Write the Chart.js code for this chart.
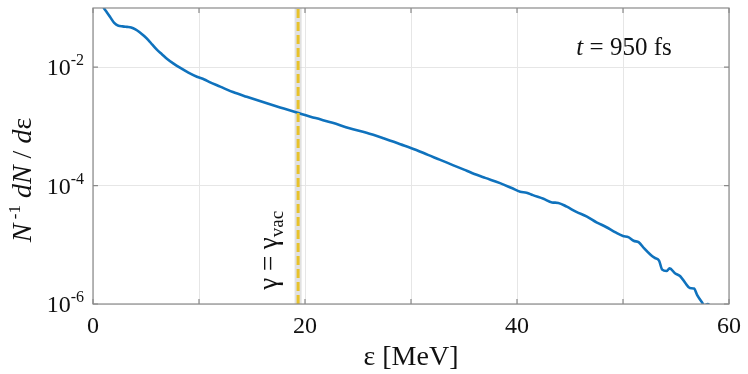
<!DOCTYPE html>
<html>
<head>
<meta charset="utf-8">
<script src="https://cdn.jsdelivr.net/npm/chart.js@4.4.0/dist/chart.umd.min.js"></script>
<style>
  html, body { margin: 0; padding: 0; background: #fff; }
  #wrap { width: 748px; height: 374px; position: relative; }
</style>
</head>
<body>
<div id="wrap"><canvas id="spec"></canvas></div>
<script>
// electron energy spectrum at t = 950 fs
const energy = [
  0.8, 1.0, 1.3, 1.6, 2.0, 2.4, 2.8, 3.2, 3.6, 4.0, 4.4, 4.8, 5.2, 5.6, 6.0, 6.5, 7.0, 7.6, 8.2, 9.0,
  9.8, 10.5, 11.0, 12.0, 13.2, 14.5, 16.4, 18.0, 19.3, 21.0, 22.6, 24.2, 25.8, 27.4, 29.0, 30.5, 31.6, 32.7, 34.0, 35.0,
  35.8, 37.0, 38.4, 39.5, 40.3, 40.9, 41.5, 42.5, 43.3, 43.9, 44.7, 45.6, 46.6, 47.5, 48.4, 49.3, 50.0, 50.5, 51.0, 51.5,
  52.0, 52.6, 53.0, 53.4, 53.7, 54.1, 54.4, 54.9, 55.4, 55.9, 56.3, 56.7, 57.0, 57.4, 57.7, 58.0, 58.3
];
const spectrum = [
  1.26e-1, 1.02e-1, 8.5e-2, 7.1e-2, 5.6e-2, 5.0e-2, 4.9e-2, 4.8e-2, 4.7e-2, 4.37e-2, 3.9e-2, 3.4e-2, 2.9e-2, 2.4e-2, 2.0e-2, 1.66e-2, 1.38e-2, 1.15e-2, 9.8e-3, 8.1e-3,
  6.9e-3, 6.2e-3, 5.6e-3, 4.7e-3, 3.8e-3, 3.16e-3, 2.45e-3, 2.0e-3, 1.7e-3, 1.38e-3, 1.15e-3, 9.3e-4, 7.8e-4, 6.3e-4, 5.0e-4, 4.0e-4, 3.3e-4, 2.75e-4, 2.2e-4, 1.86e-4,
  1.62e-4, 1.35e-4, 1.10e-4, 9.1e-5, 7.9e-5, 7.6e-5, 6.9e-5, 6.0e-5, 5.2e-5, 5.1e-5, 4.4e-5, 3.6e-5, 3.0e-5, 2.4e-5, 2.0e-5, 1.62e-5, 1.41e-5, 1.35e-5, 1.17e-5, 1.10e-5,
  8.7e-6, 6.8e-6, 6.0e-6, 5.4e-6, 3.8e-6, 3.6e-6, 4.0e-6, 3.3e-6, 2.95e-6, 2.24e-6, 1.86e-6, 1.82e-6, 1.41e-6, 1.10e-6, 9.5e-7, 1.0e-6, 8.9e-7
];
const gammaVac = 19.35;   // energy where gamma = gamma_vac

const xTicks = [0, 10, 20, 30, 40, 50, 60];
const xLabels = ['0', '', '20', '', '40', '', '60'];
const yTicks = [1e-6, 1e-4, 1e-2];
const yExponents = ['-6', '-4', '-2'];

const serif = "'Liberation Serif', 'Times New Roman', serif";

const curve = energy.map((e, i) => ({ x: e, y: spectrum[i] }));
const vline = [{ x: gammaVac, y: 1e-6 }, { x: gammaVac, y: 1e-1 }];

// draws a run of text pieces with their own styles
function drawPieces(ctx, pieces, x, y, align) {
  let total = 0;
  pieces.forEach(p => {
    ctx.font = (p.italic ? 'italic ' : '') + p.size + 'px ' + serif;
    p.w = ctx.measureText(p.t).width;
    total += p.w;
  });
  let cx = align === 'center' ? x - total / 2 : align === 'right' ? x - total : x;
  pieces.forEach(p => {
    ctx.font = (p.italic ? 'italic ' : '') + p.size + 'px ' + serif;
    ctx.fillText(p.t, cx, y + (p.dy || 0));
    cx += p.w;
  });
}

const annotations = {
  id: 'annotations',
  afterDraw(chart) {
    const { ctx, chartArea: a, scales } = chart;
    ctx.save();
    // box and inward tick marks
    ctx.strokeStyle = '#8a8a8a';
    ctx.lineWidth = 1.2;
    ctx.strokeRect(a.left, a.top, a.right - a.left, a.bottom - a.top);
    ctx.beginPath();
    xTicks.forEach(v => {
      const px = scales.x.getPixelForValue(v);
      ctx.moveTo(px, a.bottom); ctx.lineTo(px, a.bottom - 5);
      ctx.moveTo(px, a.top); ctx.lineTo(px, a.top + 5);
    });
    yTicks.forEach(v => {
      const py = scales.y.getPixelForValue(v);
      ctx.moveTo(a.left, py); ctx.lineTo(a.left + 5, py);
      ctx.moveTo(a.right, py); ctx.lineTo(a.right - 5, py);
    });
    ctx.stroke();

    ctx.fillStyle = '#111';
    ctx.textBaseline = 'alphabetic';

    // y tick labels with superscript exponents
    yTicks.forEach((v, i) => {
      const py = scales.y.getPixelForValue(v);
      drawPieces(ctx, [
        { t: '10', size: 24 },
        { t: yExponents[i], size: 16, dy: -10 }
      ], a.left - 9, py + 8, 'right');
    });

    // x title
    drawPieces(ctx, [{ t: '\u03B5 [MeV]', size: 28 }], (a.left + a.right) / 2, 365, 'center');

    // y title
    ctx.save();
    ctx.translate(31, 180);
    ctx.rotate(-Math.PI / 2);
    drawPieces(ctx, [
      { t: 'N', size: 28, italic: true },
      { t: ' -1', size: 17, dy: -11 },
      { t: ' ', size: 28 },
      { t: 'dN', size: 28, italic: true },
      { t: ' / ', size: 28 },
      { t: 'd', size: 28, italic: true },
      { t: '\u03B5', size: 28 }
    ], 0, 0, 'center');
    ctx.restore();

    // time label
    const tx = scales.x.getPixelForValue(45.6);
    const ty = scales.y.getPixelForValue(Math.pow(10, -1.8));
    drawPieces(ctx, [
      { t: 't', size: 25, italic: true },
      { t: ' = 950 fs', size: 25 }
    ], tx, ty, 'left');

    // gamma label, rotated
    ctx.save();
    ctx.translate(scales.x.getPixelForValue(gammaVac) - 21, scales.y.getPixelForValue(Math.pow(10, -5.76)));
    ctx.rotate(-Math.PI / 2);
    drawPieces(ctx, [
      { t: '\u03B3 = \u03B3', size: 27 },
      { t: 'vac', size: 19, dy: 6 }
    ], 0, 0, 'left');
    ctx.restore();
    ctx.restore();
  }
};

new Chart(document.getElementById('spec'), {
  type: 'scatter',
  data: {
    datasets: [
      {
        data: vline,
        showLine: true,
        borderColor: 'rgba(205,205,205,0.6)',
        borderWidth: 7,
        pointRadius: 0,
        order: 3
      },
      {
        data: curve,
        showLine: true,
        borderColor: '#0f72bd',
        borderWidth: 2.6,
        pointRadius: 0,
        cubicInterpolationMode: 'monotone',
        order: 2
      },
      {
        data: vline,
        showLine: true,
        borderColor: '#e8c22a',
        borderWidth: 3,
        borderDash: [9, 4],
        pointRadius: 0,
        order: 1
      }
    ]
  },
  options: {
    responsive: true,
    maintainAspectRatio: false,
    animation: false,
    layout: { padding: { top: 8, right: 19, left: 0, bottom: 0 } },
    plugins: {
      legend: { display: false },
      tooltip: { enabled: false }
    },
    scales: {
      x: {
        type: 'linear',
        min: 0,
        max: 60,
        afterBuildTicks: (s) => { s.ticks = xTicks.map(v => ({ value: v })); },
        afterFit: (s) => { s.height = 70; s.paddingLeft = 0; s.paddingRight = 0; },
        grid: { color: '#e6e6e6', lineWidth: 1, drawTicks: false },
        border: { display: false },
        ticks: {
          padding: 8,
          color: '#111',
          font: { family: serif, size: 24 },
          callback: (v) => xLabels[xTicks.indexOf(v)] ?? ''
        }
      },
      y: {
        type: 'logarithmic',
        min: 1e-6,
        max: 1e-1,
        afterBuildTicks: (s) => { s.ticks = yTicks.map(v => ({ value: v })); },
        afterFit: (s) => { s.width = 93; s.paddingTop = 0; s.paddingBottom = 0; },
        grid: { color: '#e6e6e6', lineWidth: 1, drawTicks: false },
        border: { display: false },
        ticks: { display: false }
      }
    }
  },
  plugins: [annotations]
});
</script>
</body>
</html>
